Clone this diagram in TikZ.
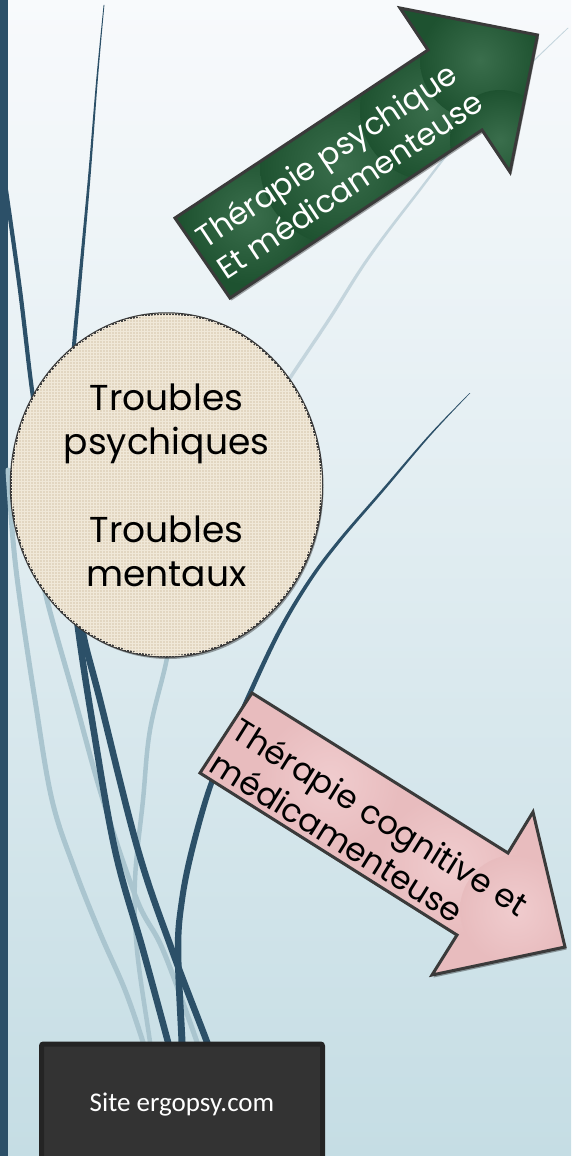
\documentclass[tikz,border=0pt]{standalone}
\usepackage{fontspec}
\newfontfamily\gothic{Poppins}
\newfontfamily\calib{Carlito}
\usetikzlibrary{shadows,shapes.geometric,patterns}
\definecolor{darkline}{RGB}{44,80,104}
\definecolor{lightline}{RGB}{170,197,207}
\definecolor{lighttop}{RGB}{196,213,221}
\definecolor{bgtop}{RGB}{248,250,252}
\definecolor{bgbot}{RGB}{197,221,228}
\definecolor{beige}{RGB}{226,214,193}
\definecolor{beigelight}{RGB}{240,232,216}
\definecolor{greenfill}{RGB}{30,82,48}
\definecolor{greenlight}{RGB}{58,110,76}
\definecolor{pinkfill}{RGB}{232,188,190}
\definecolor{pinklight}{RGB}{240,204,206}
\definecolor{edgegray}{RGB}{58,58,58}
\definecolor{boxfill}{RGB}{51,51,51}
\definecolor{boxedge}{RGB}{36,36,36}
\tikzset{
  darkstroke/.style={draw=darkline, line cap=round},
  lightstroke/.style={draw=lightline, line cap=round},
  softshadow/.style={drop shadow={shadow xshift=1.5pt, shadow yshift=-2.5pt, opacity=0.35, fill=black}},
  arrowshape/.style={draw=edgegray, line width=3pt, line join=miter},
  arrowtext/.style={align=left, inner sep=0pt},
  greenblob/.style={inner color=greenlight, outer color=greenfill},
  pinkblob/.style={inner color=pinklight, outer color=pinkfill},
}
\begin{document}
\begin{tikzpicture}[x=1pt,y=-1pt]
\useasboundingbox (0,0) rectangle (571,1156);
% background
\shade[top color=bgtop, bottom color=bgbot] (0,0) rectangle (571,1156);
\fill[darkline] (0,0) rectangle (8.3,1156);

% light lines
\draw[lightstroke, line width=5pt] plot[smooth, tension=0.6] coordinates {(8,470) (13,540) (20,600) (35,700) (52,800) (75,870) (100,933) (125,990) (143,1042) (146,1055)};
\draw[lightstroke, line width=5pt] plot[smooth, tension=0.6] coordinates {(35,540) (47,600) (75,700) (103,800) (137,900) (163,950) (197,1042) (200,1055)};
\draw[lightstroke, line width=4.5pt] plot[smooth, tension=0.6] coordinates {(175,600) (167,658) (150,730) (143,800) (135,880) (137,950) (150,1042) (151,1055)};
\fill[lighttop] plot[smooth, tension=0.6] coordinates {(567.45,28) (478.95,115) (410.4,200) (365.2,260) (328.05,318) (287.9,378) (267.9,410)}
  -- plot[smooth, tension=0.6] coordinates {(272.1,410) (292.1,378) (331.95,318) (368.8,260) (413.6,200) (481.05,115) (568.55,28)} -- cycle;

% dark lines
\draw[darkstroke, line width=4.2pt] plot[smooth, tension=0.6] coordinates {(6,190) (20,290) (32,390) (42,450)};
\fill[darkline] plot[smooth, tension=0.6] coordinates {(103.6,5) (96.2,80) (87.75,180) (77.25,290) (72,345) (68,400)}
  -- plot[smooth, tension=0.6] coordinates {(72,400) (76,345) (80.75,290) (90.25,180) (97.8,80) (104.4,5)} -- cycle;
\draw[darkstroke, line width=6.5pt] plot[smooth, tension=0.6] coordinates {(70,560) (78,628) (92,720) (115,850) (143,950) (168,1042) (171,1055)};
\draw[darkstroke, line width=6.5pt] plot[smooth, tension=0.6] coordinates {(75,560) (82,628) (100,700) (138,850) (172,950) (207,1042) (211,1055)};
\fill[darkline] plot[smooth, tension=0.6] coordinates {(469.65,393) (428.95,435) (381.36,490) (338.03,540) (307.87,580) (277.7,630) (247.5,693) (227.3,740) (207.1,787) (188.9,850) (178.95,900) (174.75,950) (178.5,1042) (178.5,1055)}
  -- plot[smooth, tension=0.6] coordinates {(185.5,1055) (185.5,1042) (181.25,950) (185.05,900) (195.1,850) (212.9,787) (232.7,740) (252.5,693) (282.3,630) (312.13,580) (341.97,540) (384.64,490) (431.05,435) (470.35,393)} -- cycle;

% central circle
\node[ellipse, draw=edgegray, line width=2.5pt, fill=beige, softshadow,
      postaction={pattern=grid, pattern color=beigelight},
      minimum width=311pt, minimum height=343pt, inner sep=0pt,
      align=center, font=\gothic\fontsize{36}{44}\selectfont] (troubles) at (166.5,485)
      {Troubles\\psychiques\\[44pt]Troubles\\mentaux};

% green arrow (up-right)
\fill[softshadow, fill=greenfill] (175,218) -- (428,50) -- (400,8) -- (537.5,35) -- (510,172) -- (482,130) -- (230,298) -- cycle;
\begin{scope}
  \clip (175,218) -- (428,50) -- (400,8) -- (537.5,35) -- (510,172) -- (482,130) -- (230,298) -- cycle;
  \shade[greenblob] (250,215) circle (70);
  \shade[greenblob] (340,165) circle (80);
  \shade[greenblob] (430,110) circle (70);
  \shade[greenblob] (480,60) circle (60);
  \shade[greenblob] (500,140) circle (50);
\end{scope}
\draw[arrowshape] (175,218) -- (428,50) -- (400,8) -- (537.5,35) -- (510,172) -- (482,130) -- (230,298) -- cycle;
\node[arrowtext, text=white, rotate=33.6, anchor=west, font=\gothic\fontsize{31}{38}\selectfont] (psy) at (209,255) {Thérapie psychique\\Et médicamenteuse};

% pink arrow (down-right)
\fill[softshadow, fill=pinkfill] (252,693) -- (508,853) -- (533,812) -- (565,947) -- (432,975) -- (457,935) -- (200,773) -- cycle;
\begin{scope}
  \clip (252,693) -- (508,853) -- (533,812) -- (565,947) -- (432,975) -- (457,935) -- (200,773) -- cycle;
  \shade[pinkblob] (330,780) circle (70);
  \shade[pinkblob] (450,865) circle (70);
  \shade[pinkblob] (515,910) circle (55);
\end{scope}
\draw[arrowshape] (252,693) -- (508,853) -- (533,812) -- (565,947) -- (432,975) -- (457,935) -- (200,773) -- cycle;
\node[arrowtext, text=black, rotate=-32, anchor=west, font=\gothic\fontsize{32.5}{40}\selectfont] (cog) at (225,743) {Thérapie cognitive et\\médicamenteuse};

% bottom box
\node[draw=boxedge, line width=5pt, fill=boxfill, rounded corners=2pt,
      minimum width=281pt, minimum height=122pt, text=white,
      font=\calib\fontsize{27}{32}\selectfont] (site) at (182,1105) {Site ergopsy.com};
\end{tikzpicture}
\end{document}
